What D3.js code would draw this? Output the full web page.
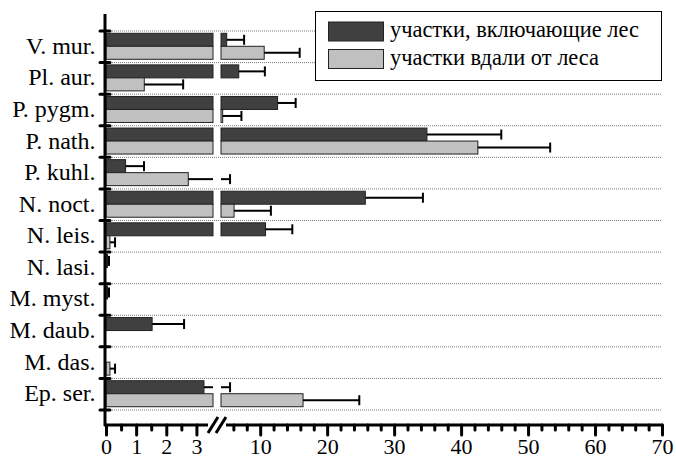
<!DOCTYPE html>
<html>
<head>
<meta charset="utf-8">
<script src="https://cdn.jsdelivr.net/npm/d3@7"></script>
<style>
  body { margin: 0; background: #fff; }
</style>
</head>
<body>
<div id="chart"></div>
<script>
const categories = ['V. mur.', 'Pl. aur.', 'P. pygm.', 'P. nath.', 'P. kuhl.', 'N. noct.',
  'N. leis.', 'N. lasi.', 'M. myst.', 'M. daub.', 'M. das.', 'Ep. ser.'];
// mean values, участки, включающие лес
const forest = [5.0, 6.8, 12.6, 34.9, 0.65, 25.7, 10.8, 0.05, 0.05, 1.53, 0, 3.25];
const forestErr = [2.6, 3.9, 2.7, 11.1, 0.61, 8.6, 4.0, 0.05, 0.05, 1.06, 0, 2.25];
// mean values, участки вдали от леса
const away = [10.6, 1.27, 4.4, 42.5, 2.73, 6.1, 0.13, 0, 0, 0, 0.13, 16.4];
const awayErr = [5.3, 1.29, 2.8, 10.8, 2.77, 5.5, 0.17, 0, 0, 0, 0.17, 8.4];
const seriesNames = ['участки, включающие лес', 'участки вдали от леса'];
const lowTicks = [0, 0.5, 1, 1.5, 2, 2.5, 3];
const highTicks = d3.range(6, 71, 2);

const width = 676, height = 460;
const breakLo = 3.55, breakHi = 4.15;
const serif = 'Liberation Serif';

const svg = d3.select('#chart').append('svg')
  .attr('width', width).attr('height', height);

// broken x axis: two linear pieces
const xl = d3.scaleLinear().domain([0, breakLo]).range([106, 213]);
const xr = d3.scaleLinear().domain([breakHi, 70]).range([221, 662]);

// split [a, b] into drawable pieces around the break
function pieces(a, b) {
  const out = [];
  if (a < breakLo) out.push([xl(a), xl(Math.min(b, breakLo))]);
  if (b > breakHi) out.push([xr(Math.max(a, breakHi)), xr(b)]);
  return out;
}
function xPos(v) { return v <= breakLo ? xl(v) : xr(Math.max(v, breakHi)); }

const y = d3.scaleBand().domain(categories).range([31, 410]);
const barH = 13, barTop = 2.3;

// grid
const gridYs = categories.map(c => y(c)).concat([410]);
svg.append('g').selectAll('line').data(gridYs).enter().append('line')
  .attr('x1', 106).attr('x2', 662)
  .attr('y1', d => d).attr('y2', d => d)
  .attr('stroke', '#777').attr('stroke-width', 1).attr('stroke-dasharray', '1,1');

// bars
const series = [
  { vals: forest, errs: forestErr, fill: '#404040', off: barTop },
  { vals: away, errs: awayErr, fill: '#c0c0c0', off: barTop + barH }
];
series.forEach(s => {
  const g = svg.append('g');
  categories.forEach((c, i) => {
    const v = s.vals[i];
    if (v <= 0) return;
    const y0 = y(c) + s.off;
    pieces(0, v).forEach(p => {
      g.append('rect')
        .attr('x', p[0]).attr('y', y0)
        .attr('width', Math.max(p[1] - p[0], 0.8)).attr('height', barH)
        .attr('fill', s.fill).attr('stroke', '#222').attr('stroke-width', 1);
    });
    const e = s.errs[i];
    if (e <= 0) return;
    const cy = y0 + barH / 2;
    pieces(v, v + e).forEach(p => {
      g.append('line')
        .attr('x1', p[0]).attr('x2', p[1]).attr('y1', cy).attr('y2', cy)
        .attr('stroke', '#000').attr('stroke-width', 2);
    });
    const ex = xPos(v + e);
    g.append('line')
      .attr('x1', ex).attr('x2', ex).attr('y1', cy - 5).attr('y2', cy + 5)
      .attr('stroke', '#000').attr('stroke-width', 2);
  });
});

// y axis
svg.append('line').attr('x1', 105).attr('x2', 105).attr('y1', 14).attr('y2', 426)
  .attr('stroke', '#000').attr('stroke-width', 3);
svg.append('g').selectAll('line').data(gridYs).enter().append('line')
  .attr('x1', 100).attr('x2', 110).attr('y1', d => d).attr('y2', d => d)
  .attr('stroke', '#000').attr('stroke-width', 3).attr('stroke-linecap', 'round');
svg.append('g').selectAll('text').data(categories).enter().append('text')
  .attr('x', 95.5).attr('y', d => y(d) + y.bandwidth() / 2 + 7)
  .attr('text-anchor', 'end').attr('font-size', 24).attr('fill', '#000')
  .attr('font-family', serif)
  .text(d => d);

// x axis
const axisY = 425;
function drawAxis(scale, ticks, majorTest) {
  const g = svg.append('g').attr('transform', `translate(0,${axisY})`)
    .call(d3.axisBottom(scale).tickValues(ticks).tickSize(10)
      .tickFormat(d => majorTest(d) ? d : ''));
  g.attr('font-family', serif).attr('font-size', 22);
  g.select('.domain').remove();
  g.selectAll('.tick line')
    .attr('stroke', '#000').attr('stroke-width', 3).attr('stroke-linecap', 'round')
    .attr('y2', d => majorTest(d) ? 10 : 5);
  g.selectAll('.tick text')
    .attr('fill', '#000').attr('y', 29).attr('dy', null);
}
drawAxis(xl, lowTicks, d => Number.isInteger(d));
drawAxis(xr, highTicks, d => d % 10 === 0);
svg.append('line').attr('x1', 104).attr('x2', 208).attr('y1', axisY).attr('y2', axisY)
  .attr('stroke', '#000').attr('stroke-width', 3);
svg.append('line').attr('x1', 226).attr('x2', 663).attr('y1', axisY).attr('y2', axisY)
  .attr('stroke', '#000').attr('stroke-width', 3);
[0, 8].forEach(dx => {
  svg.append('line')
    .attr('x1', 208 + dx).attr('y1', 433).attr('x2', 218 + dx).attr('y2', 417)
    .attr('stroke', '#000').attr('stroke-width', 3);
});

// legend
const lg = svg.append('g');
lg.append('rect').attr('x', 315.5).attr('y', 11.5).attr('width', 346).attr('height', 69)
  .attr('fill', '#fff').attr('stroke', '#000').attr('stroke-width', 1);
seriesNames.forEach((name, i) => {
  lg.append('rect').attr('x', 328.5).attr('y', 22 + i * 27.5).attr('width', 55).attr('height', 19)
    .attr('fill', series[i].fill).attr('stroke', '#222').attr('stroke-width', 1);
  lg.append('text').attr('x', 390).attr('y', 37 + i * 28)
    .attr('font-size', 22.4).attr('fill', '#000').attr('font-family', serif).text(name);
});
</script>
</body>
</html>
